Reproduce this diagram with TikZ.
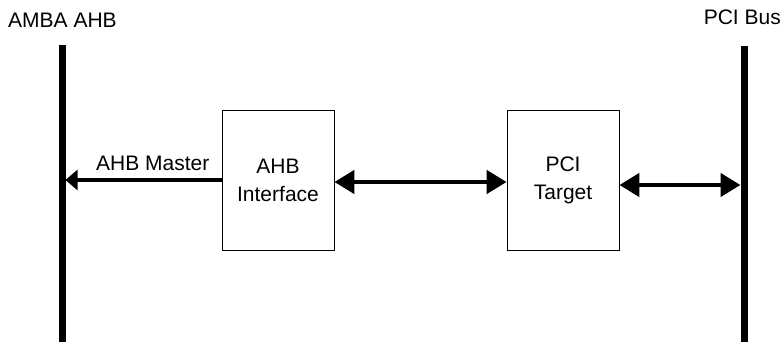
\documentclass[tikz,border=0pt]{standalone}
\usepackage{fontspec}
\setmainfont{Liberation Sans}
\usetikzlibrary{arrows.meta}
\begin{document}
\begin{tikzpicture}
    [x=1pt,y=-1pt,font=\fontsize{21}{28}\selectfont,
    block/.style={draw,line width=0.8pt,minimum width=112pt,minimum height=140pt,align=center,inner sep=0pt},
    bus/.style={line width=7pt},
    wide/.style={line width=4.5pt,{Triangle[length=20pt,width=23pt]}-{Triangle[length=20pt,width=23pt]}},
    narrow/.style={line width=3.5pt,-{Triangle[length=12pt,width=20pt]}}]
    \useasboundingbox (0,0) rectangle (782,342);
    %buses
    \draw[bus] (62,45) coordinate (ahbtop) -- (62,342) coordinate (ahbbot);
    \draw[bus] (744,46) coordinate (pcitop) -- (744,342) coordinate (pcibot);
    \node[anchor=west,inner xsep=0pt] (ahblabel) at (8,20) {AMBA AHB};
    \node[anchor=east,inner xsep=0pt] (pcilabel) at (781,17) {PCI Bus};
    %blocks
    \node[block] (ahbif) at (278,180) {AHB\\Interface};
    \node[block] (pcitgt) at (563,180) {PCI\\Target};
    %connections
    \coordinate (ahbend) at (65.5,180);
    \coordinate (pciend) at (740.5,185);
    \draw[narrow] (ahbif.west |- ahbend) -- (ahbend);
    \node[anchor=base east,inner xsep=0pt] (master) at ([xshift=-12pt]ahbif.west |- 0,171) {AHB Master};
    \draw[wide] (ahbif.east |- 0,182) -- (pcitgt.west |- 0,182);
    \draw[wide] (pcitgt.east |- pciend) -- (pciend);
\end{tikzpicture}
\end{document}
